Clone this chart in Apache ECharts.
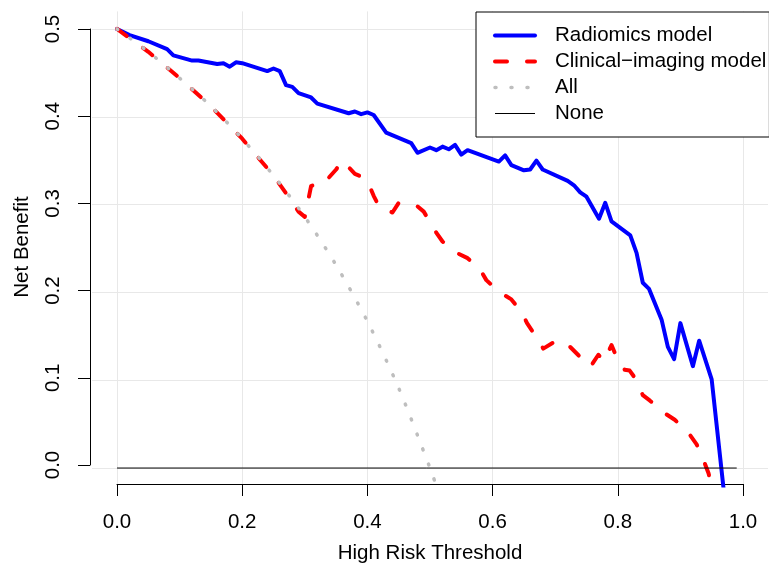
<!DOCTYPE html>
<html><head><meta charset="utf-8">
<script src="https://cdn.jsdelivr.net/npm/echarts@6/dist/echarts.min.js"></script>
<style>html,body{margin:0;padding:0;background:#fff}#c{width:769px;height:569px}</style>
</head><body><div id="c"></div>
<script>
const xTicks = [0, 0.2, 0.4, 0.6, 0.8, 1.0];
const yTicks = [0, 0.1, 0.2, 0.3, 0.4, 0.5];
const seriesNames = ['Radiomics model', 'Clinical\u2212imaging model', 'All', 'None'];

const radiomics = [[0,0.5],[0.02,0.493],[0.05,0.486],[0.08,0.477],[0.09,0.470],[0.12,0.464],[0.13,0.464],
 [0.16,0.460],[0.17,0.461],[0.18,0.457],[0.19,0.462],[0.20,0.461],[0.24,0.452],[0.25,0.455],[0.26,0.452],
 [0.27,0.436],[0.28,0.434],[0.29,0.427],[0.31,0.422],[0.32,0.415],[0.37,0.404],[0.38,0.406],[0.39,0.403],
 [0.40,0.405],[0.41,0.402],[0.43,0.382],[0.47,0.370],[0.48,0.359],[0.50,0.365],[0.51,0.362],[0.52,0.366],
 [0.53,0.363],[0.54,0.368],[0.55,0.357],[0.56,0.362],[0.61,0.349],[0.62,0.356],[0.63,0.345],[0.65,0.339],
 [0.66,0.340],[0.67,0.350],[0.68,0.340],[0.72,0.327],[0.73,0.322],[0.74,0.314],[0.75,0.309],[0.77,0.284],
 [0.78,0.302],[0.79,0.281],[0.82,0.265],[0.83,0.245],[0.84,0.211],[0.85,0.204],[0.87,0.169],[0.88,0.138],
 [0.89,0.124],[0.90,0.165],[0.92,0.116],[0.93,0.145],[0.95,0.101],[0.97,-0.03]];

const clinical = [[0,0.5],[0.05,0.474],[0.10,0.444],[0.15,0.412],[0.20,0.375],[0.25,0.333],[0.28,0.303],
 [0.29,0.292],[0.30,0.286],[0.31,0.321],[0.32,0.324],[0.33,0.324],[0.35,0.340],[0.36,0.350],[0.38,0.335],
 [0.39,0.332],[0.40,0.327],[0.41,0.310],[0.42,0.296],[0.44,0.291],[0.45,0.302],[0.48,0.298],[0.49,0.292],
 [0.51,0.268],[0.52,0.258],[0.54,0.246],[0.56,0.239],[0.58,0.226],[0.59,0.214],[0.61,0.201],[0.63,0.192],
 [0.646,0.178],[0.655,0.165],[0.67,0.149],[0.681,0.136],[0.702,0.145],[0.721,0.140],[0.742,0.125],
 [0.75,0.123],[0.757,0.116],[0.769,0.129],[0.778,0.122],[0.79,0.140],[0.796,0.130],[0.811,0.112],
 [0.819,0.111],[0.827,0.103],[0.84,0.083],[0.851,0.077],[0.877,0.0615],[0.891,0.055],[0.913,0.040],
 [0.926,0.027],[0.937,0.009],[0.945,-0.006],[0.95,-0.02]];

const allLine = [[0,0.5],[0.05,0.474],[0.10,0.444],[0.15,0.412],[0.20,0.375],[0.25,0.333],[0.30,0.286],
 [0.35,0.231],[0.40,0.167],[0.45,0.091],[0.50,0.0],[0.51,-0.02]];

const noneLine = [[0,0],[0.99,0]];

const FONT = '"Liberation Sans", Arial, Helvetica, sans-serif';
const FS = 20.5;
const legendWidths = [4, 4, 3.5, 1];

const chart = echarts.init(document.getElementById('c'), null, {renderer: 'canvas'});
chart.setOption({
  animation: false,
  backgroundColor: '#fff',
  grid: [
    {left: 92, right: 1, top: 11.4, bottom: 83.4},
    {left: 117, right: 26, top: 29, bottom: 101}
  ],
  xAxis: [
    {gridIndex: 0, type: 'value', min: -0.04, max: 1.04, show: false},
    {gridIndex: 1, type: 'value', min: 0, max: 1, interval: 0.2, offset: 19,
     axisLine: {show: true, onZero: false, lineStyle: {color: '#000', width: 1}},
     axisTick: {show: true, length: 12, lineStyle: {color: '#000', width: 1}},
     axisLabel: {fontFamily: FONT, fontSize: FS, color: '#000', margin: 28, formatter: v => v.toFixed(1)},
     splitLine: {show: false},
     name: 'High Risk Threshold', nameLocation: 'middle', nameGap: 59,
     nameTextStyle: {fontFamily: FONT, fontSize: FS, color: '#000'}}
  ],
  yAxis: [
    {gridIndex: 0, type: 'value', min: -0.02, max: 0.52, show: false},
    {gridIndex: 1, type: 'value', min: 0, max: 0.5, interval: 0.1, offset: 27,
     axisLine: {show: true, onZero: false, lineStyle: {color: '#000', width: 1}},
     axisTick: {show: true, length: 12, lineStyle: {color: '#000', width: 1}},
     axisLabel: {fontFamily: FONT, fontSize: FS, color: '#000', margin: 26, rotate: 90, formatter: v => v.toFixed(1)},
     splitLine: {show: false},
     name: 'Net Benefit', nameLocation: 'middle', nameGap: 57,
     nameTextStyle: {fontFamily: FONT, fontSize: FS, color: '#000'}}
  ],
  legend: {
    orient: 'vertical', left: 476, top: 12, padding: [13, 3, 13, 17], z: 20,
    itemWidth: 40, itemHeight: 14, itemGap: 5,
    borderColor: '#000', borderWidth: 1, borderRadius: 0,
    backgroundColor: '#fff',
    selectedMode: false,
    itemStyle: {opacity: 0},
    textStyle: {fontFamily: FONT, fontSize: FS, color: '#000', padding: [0, 0, 0, 15]},
    data: seriesNames.map((n, i) => ({name: n, lineStyle: {width: legendWidths[i]}}))
  },
  series: [
    {type: 'line', name: '_grid', xAxisIndex: 0, yAxisIndex: 0, data: [], z: 0, silent: true,
     markLine: {silent: true, z: 0, symbol: ['none', 'none'], label: {show: false},
       lineStyle: {color: '#e8e8e8', width: 1, type: 'solid'}, emphasis: {disabled: true},
       data: xTicks.map(v => ({xAxis: v})).concat(yTicks.map(v => ({yAxis: v})))}},
    {type: 'line', name: seriesNames[0], xAxisIndex: 0, yAxisIndex: 0, data: radiomics, symbol: 'none', z: 2,
     lineStyle: {color: '#0000ff', width: 4, cap: 'round', join: 'round'}, itemStyle: {color: '#0000ff'}},
    {type: 'line', name: seriesNames[1], xAxisIndex: 0, yAxisIndex: 0, data: clinical, symbol: 'none', z: 3,
     lineStyle: {color: '#ff0000', width: 4, type: [12, 20], cap: 'round', join: 'round'}, itemStyle: {color: '#ff0000'}},
    {type: 'line', name: seriesNames[2], xAxisIndex: 0, yAxisIndex: 0, data: allLine, symbol: 'none', z: 4, smooth: 0.3,
     lineStyle: {color: '#bebebe', width: 3.5, type: [1, 15], cap: 'round'}, itemStyle: {color: '#bebebe'}},
    {type: 'line', name: seriesNames[3], xAxisIndex: 0, yAxisIndex: 0, data: noneLine, symbol: 'none', z: 5,
     lineStyle: {color: '#000', width: 1}, itemStyle: {color: '#000'}}
  ]
});
</script>
</body></html>
